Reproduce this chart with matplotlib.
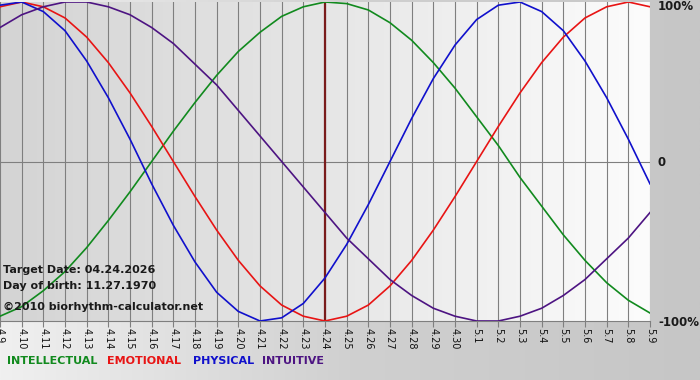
import numpy as np
import matplotlib.pyplot as plt
from matplotlib.colors import LinearSegmentedColormap

# days shown: 4.9 ... 5.9 (2026)
day_labels = ['4.9', '4.10', '4.11', '4.12', '4.13', '4.14', '4.15', '4.16', '4.17', '4.18',
              '4.19', '4.20', '4.21', '4.22', '4.23', '4.24', '4.25', '4.26', '4.27', '4.28',
              '4.29', '4.30', '5.1', '5.2', '5.3', '5.4', '5.5', '5.6', '5.7', '5.8', '5.9']
target_label = '4.24'

# values, one per day
intellectual = [-0.97, -0.91, -0.81, -0.69, -0.54, -0.37, -0.19, 0.00, 0.19, 0.37,
                0.54, 0.69, 0.81, 0.91, 0.97, 1.00, 0.99, 0.95, 0.87, 0.76,
                0.62, 0.46, 0.28, 0.10, -0.10, -0.28, -0.46, -0.62, -0.76, -0.87, -0.95]
emotional = [0.97, 1.00, 0.97, 0.90, 0.78, 0.62, 0.43, 0.22, 0.00, -0.22,
             -0.43, -0.62, -0.78, -0.90, -0.97, -1.00, -0.97, -0.90, -0.78, -0.62,
             -0.43, -0.22, 0.00, 0.22, 0.43, 0.62, 0.78, 0.90, 0.97, 1.00, 0.97]
physical = [0.98, 1.00, 0.94, 0.82, 0.63, 0.40, 0.14, -0.14, -0.40, -0.63,
            -0.82, -0.94, -1.00, -0.98, -0.89, -0.73, -0.52, -0.27, 0.00, 0.27,
            0.52, 0.73, 0.89, 0.98, 1.00, 0.94, 0.82, 0.63, 0.40, 0.14, -0.14]
intuitive = [0.84, 0.92, 0.97, 1.00, 1.00, 0.97, 0.92, 0.84, 0.74, 0.61,
             0.48, 0.32, 0.16, 0.00, -0.16, -0.32, -0.48, -0.61, -0.74, -0.84,
             -0.92, -0.97, -1.00, -1.00, -0.97, -0.92, -0.84, -0.74, -0.61, -0.48, -0.32]

series = [('INTELLECTUAL', intellectual, '#118a1e'),
          ('EMOTIONAL', emotional, '#e81414'),
          ('PHYSICAL', physical, '#1010cc'),
          ('INTUITIVE', intuitive, '#4d1482')]

info = ['Target Date: 04.24.2026', 'Day of birth: 11.27.1970', '\u00a92010 biorhythm-calculator.net']
pct_labels = ['100%', '0', '-100%']

W, H = 700, 380
fig = plt.figure(figsize=(W / 100, H / 100), dpi=100)

# background of the whole picture: light on the left, grey on the right
bg = fig.add_axes([0, 0, 1, 1])
grad = np.linspace(0, 1, 256).reshape(1, -1)
bg.imshow(grad, extent=[0, 1, 0, 1], aspect='auto',
          cmap=LinearSegmentedColormap.from_list('g', ['#f0f0f0', '#d0d0d0', '#c6c6c6']))
bg.axis('off')

x = np.arange(len(day_labels))
ax = fig.add_axes([0, 1 - 321 / H, 650 / W, 319 / H])
ax.set_xlim(0, len(day_labels) - 1)
ax.set_ylim(-1, 1)

# plot area gradient
cm = LinearSegmentedColormap.from_list('p', ['#d4d4d4', '#e6e6e6', '#fcfcfc'])
ax.imshow(grad, extent=[0, len(day_labels) - 1, -1, 1], aspect='auto', cmap=cm, zorder=0)

for xi in x:
    ax.axvline(xi, color='#7f7f7f', lw=0.8, zorder=1)
ax.axhline(0, color='#7f7f7f', lw=0.8, zorder=1)

ti = day_labels.index(target_label)
ax.axvline(ti, color='#7a1c1c', lw=1.6, zorder=2)

for name, vals, col in series:
    ax.plot(x, vals, color=col, lw=1.2, zorder=3, solid_joinstyle='round')

ax.set_xticks(x)
ax.set_xticklabels(day_labels, rotation=270, fontsize=7, color='#111111')
ax.tick_params(axis='x', length=4, color='#7f7f7f', pad=1)
ax.set_yticks([])
for s in ['top', 'left', 'right']:
    ax.spines[s].set_visible(False)
ax.spines['bottom'].set_color('#7f7f7f')

# percent labels at the right side
for txt, yp in zip(pct_labels, [7, 162, 322]):
    fig.text(658 / W, 1 - yp / H, txt, fontsize=8.5, fontweight='bold', color='#1a1a1a',
             va='center', ha='left')

for txt, yp in zip(info, [270, 286, 307]):
    fig.text(3 / W, 1 - yp / H, txt, fontsize=8, fontweight='bold', color='#1a1a1a',
             va='center', ha='left')

legend_x = [7, 107, 193, 262]
for (name, vals, col), lx in zip(series, legend_x):
    fig.text(lx / W, 1 - 361 / H, name, fontsize=8, fontweight='bold', color=col,
             va='center', ha='left')

fig.savefig('out.png', dpi=100)
